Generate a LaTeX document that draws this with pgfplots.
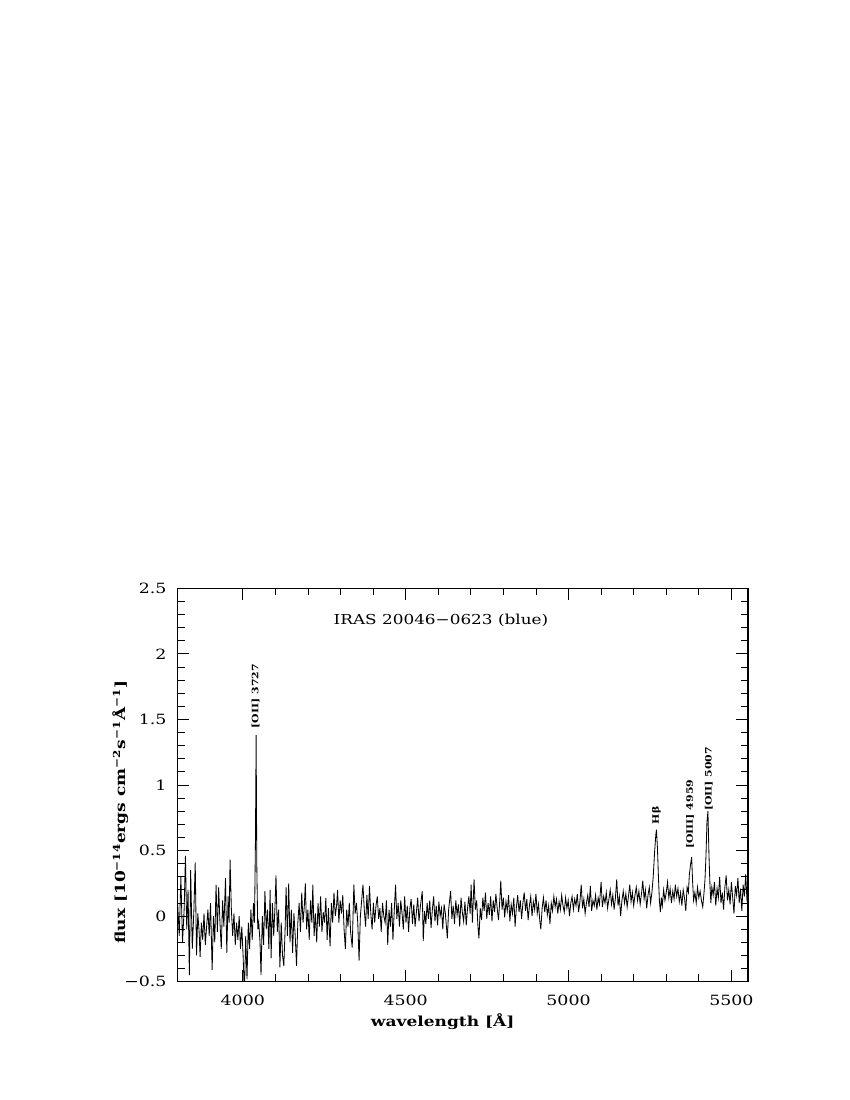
\documentclass[border=0pt]{standalone}
\usepackage{fontspec}
\setmainfont[FakeStretch=1.23]{DejaVu Serif}
\usepackage{pgfplots}
\pgfplotsset{compat=1.18}

\begin{document}
\begin{tikzpicture}
\path (0,0) rectangle (8.5in,11in);
\begin{axis}[
  at={(1.773in,1.183in)}, anchor=south west,
  scale only axis, width=5.707in, height=3.934in,
  xmin=3799, xmax=5551, ymin=-0.5, ymax=2.5,
  xtick={4000,4500,5000,5500}, xticklabels={4000,4500,5000,5500},
  minor x tick num=4,
  ytick={-0.5,0,0.5,1,1.5,2,2.5},
  yticklabels={−0.5,0,0.5,1,1.5,2,2.5},
  minor y tick num=4,
  tick align=inside,
  major tick length=0.12in, minor tick length=0.072in,
  every tick/.style={black, line width=0.6pt},
  axis line style={line width=0.9pt},
  /pgf/number format/assume math mode=true,
  tick label style={font=\fontsize{10.2}{12}\selectfont},
  xticklabel style={yshift=-6.3pt},
  yticklabel style={xshift=-4.3pt},
  clip mode=individual,
]
\addplot[black, line width=0.6pt] coordinates {
(3800,0.10)(3805,-0.15)(3810,0.30)(3815,-0.20)(3820,0.05)(3824,0.46)(3828,-0.10)(3832,0.20)
(3836,-0.45)(3840,0.35)(3845,-0.25)(3850,0.05)(3854,0.41)(3858,-0.30)(3862,0.02)(3866,-0.12)
(3869,-0.31)(3873,-0.05)(3877,-0.18)(3881,0.02)(3885,-0.22)(3889,-0.08)(3893,0.05)(3897,-0.15)
(3901,0.10)(3906,-0.41)(3910,0.00)(3914,-0.20)(3918,0.24)(3922,-0.12)(3926,0.22)(3930,-0.05)
(3934,-0.25)(3938,0.12)(3942,-0.08)(3947,0.29)(3951,-0.28)(3955,0.15)(3958,-0.05)(3961,0.43)
(3965,0.05)(3969,-0.15)(3973,0.02)(3977,-0.22)(3981,-0.05)(3985,-0.18)(3989,0.00)(3993,-0.25)
(3997,-0.08)(4001,-0.30)(4005,-0.60)(4009,-0.15)(4013,-0.48)(4017,-0.05)(4021,-0.25)(4025,0.05)
(4029,-0.18)(4033,0.10)(4036,-0.05)(4039,0.60)(4041,1.38)(4043,0.40)(4046,-0.10)(4049,-0.05)
(4053,-0.20)(4056,-0.45)(4060,0.00)(4064,-0.22)(4068,0.19)(4072,-0.10)(4076,0.05)(4080,-0.25)
(4084,0.20)(4087,-0.32)(4091,0.10)(4095,-0.15)(4099,0.08)(4102,0.31)(4106,-0.12)(4110,0.05)
(4114,-0.39)(4118,-0.05)(4122,-0.30)(4126,-0.38)(4130,-0.10)(4133,0.22)(4137,-0.15)(4141,0.25)
(4145,-0.20)(4149,0.05)(4153,-0.28)(4157,0.02)(4161,-0.15)(4165,-0.38)(4169,-0.05)(4173,0.10)
(4177,-0.12)(4181,0.18)(4185,-0.05)(4189,0.08)(4192,0.25)(4196,-0.10)(4200,0.05)(4204,-0.18)
(4208,0.12)(4212,-0.05)(4215,0.24)(4219,-0.15)(4223,0.02)(4227,-0.20)(4231,0.10)(4235,-0.08)
(4239,0.15)(4243,-0.12)(4247,0.03)(4251,-0.05)(4255,0.14)(4259,-0.18)(4263,0.06)(4268,-0.23)
(4272,0.10)(4276,-0.05)(4280,0.18)(4284,0.00)(4288,0.08)(4291,0.20)(4295,-0.05)(4299,0.12)
(4303,0.02)(4307,0.16)(4311,-0.10)(4315,-0.25)(4319,0.05)(4323,-0.08)(4327,0.10)(4331,-0.12)
(4336,-0.24)(4341,0.24)(4345,0.02)(4349,0.10)(4353,-0.05)(4357,-0.34)(4361,0.00)(4365,0.12)
(4369,0.24)(4373,0.05)(4377,-0.08)(4381,0.16)(4385,-0.02)(4389,0.23)(4393,0.02)(4397,-0.10)
(4401,0.10)(4405,-0.05)(4409,0.08)(4413,0.15)(4417,-0.02)(4421,0.06)(4425,-0.12)(4429,0.10)
(4433,0.00)(4437,-0.05)(4441,0.12)(4445,-0.22)(4449,0.05)(4453,-0.08)(4457,0.10)(4461,-0.18)
(4465,0.04)(4469,0.24)(4473,-0.02)(4477,0.10)(4481,-0.08)(4485,0.12)(4489,0.02)(4493,-0.10)
(4497,0.15)(4501,-0.05)(4505,0.08)(4509,-0.12)(4513,0.06)(4517,0.13)(4521,-0.06)(4525,0.09)
(4529,-0.08)(4533,0.03)(4537,0.14)(4541,-0.04)(4545,0.07)(4551,0.19)(4554,-0.19)(4558,0.04)
(4562,-0.06)(4566,0.10)(4570,-0.02)(4574,0.12)(4578,-0.09)(4582,0.05)(4586,0.15)(4590,-0.04)
(4594,0.08)(4598,-0.07)(4602,0.11)(4606,0.00)(4610,0.06)(4614,-0.10)(4618,0.09)(4622,0.02)
(4628,-0.17)(4632,0.05)(4638,0.19)(4642,-0.02)(4646,0.08)(4650,-0.06)(4654,0.12)(4658,0.01)
(4662,0.09)(4666,-0.08)(4670,0.14)(4674,0.03)(4678,-0.04)(4682,0.11)(4686,-0.07)(4690,0.06)
(4694,0.15)(4698,0.02)(4701,0.24)(4705,-0.05)(4710,0.28)(4714,0.05)(4718,0.12)(4722,-0.08)
(4725,-0.17)(4729,0.06)(4733,-0.03)(4737,0.14)(4741,0.04)(4745,0.18)(4749,-0.02)(4753,0.10)
(4757,0.01)(4761,0.15)(4765,-0.04)(4769,0.12)(4773,0.03)(4777,0.17)(4781,0.06)(4785,-0.03)
(4789,0.12)(4792,0.27)(4796,0.05)(4800,0.14)(4804,-0.01)(4808,0.11)(4812,0.04)(4816,0.16)
(4820,-0.04)(4824,0.09)(4828,0.02)(4832,0.14)(4836,-0.08)(4840,0.07)(4844,0.16)(4848,0.03)
(4852,0.12)(4856,-0.02)(4860,0.10)(4864,0.18)(4868,0.04)(4872,0.13)(4876,-0.03)(4880,0.08)
(4884,0.15)(4888,0.00)(4892,0.11)(4896,0.05)(4900,0.17)(4904,0.02)(4908,0.09)(4912,-0.04)
(4915,-0.10)(4919,0.06)(4923,0.14)(4927,0.03)(4931,0.12)(4935,0.01)(4939,0.08)(4943,-0.06)
(4947,0.10)(4951,0.04)(4955,0.15)(4959,0.07)(4963,0.13)(4967,0.02)(4971,0.11)(4975,0.05)
(4979,0.16)(4983,0.08)(4987,0.03)(4991,0.14)(4995,0.06)(4999,0.12)(5003,0.00)(5007,0.10)
(5011,0.15)(5015,0.05)(5019,0.13)(5023,0.08)(5027,0.17)(5031,0.03)(5035,0.11)(5039,0.24)
(5043,0.06)(5047,0.13)(5051,0.02)(5055,0.10)(5059,0.16)(5063,0.07)(5067,0.23)(5071,0.04)
(5075,0.12)(5079,0.08)(5083,0.16)(5087,0.05)(5091,0.14)(5095,0.09)(5100,0.26)(5104,0.07)
(5108,0.15)(5112,0.10)(5116,0.18)(5120,0.06)(5124,0.13)(5128,0.20)(5132,0.09)(5136,0.16)
(5140,0.05)(5144,0.14)(5148,0.28)(5152,0.08)(5156,0.15)(5160,0.00)(5164,0.12)(5168,0.19)
(5172,0.10)(5176,0.17)(5180,0.07)(5184,0.15)(5188,0.24)(5192,0.11)(5196,0.18)(5200,0.08)
(5204,0.16)(5208,0.22)(5212,0.12)(5216,0.19)(5220,0.09)(5224,0.17)(5228,0.27)(5232,0.13)
(5236,0.20)(5240,0.06)(5244,0.16)(5248,0.22)(5252,0.10)(5256,0.18)(5260,0.30)(5264,0.48)
(5268,0.62)(5270,0.66)(5273,0.52)(5276,0.30)(5279,0.12)(5282,0.03)(5285,0.14)(5288,0.08)
(5292,0.20)(5296,0.12)(5300,0.18)(5304,0.26)(5308,0.14)(5312,0.21)(5316,0.10)(5320,0.19)
(5324,0.13)(5328,0.24)(5332,0.15)(5336,0.21)(5340,0.11)(5344,0.18)(5348,0.08)(5352,0.20)
(5356,0.14)(5360,0.04)(5364,0.22)(5368,0.18)(5371,0.32)(5375,0.40)(5378,0.45)(5381,0.26)
(5384,0.12)(5388,0.18)(5392,0.10)(5396,0.22)(5400,0.14)(5404,0.19)(5408,0.12)(5412,0.07)
(5416,0.18)(5419,0.28)(5422,0.46)(5425,0.72)(5428,0.80)(5431,0.48)(5434,0.25)(5437,0.10)
(5440,0.22)(5444,0.16)(5448,0.26)(5452,0.08)(5456,0.21)(5460,0.14)(5464,0.30)(5468,0.10)
(5472,0.18)(5476,0.05)(5480,0.22)(5484,0.31)(5488,0.12)(5492,0.20)(5496,0.09)(5500,0.26)
(5504,0.14)(5508,0.02)(5512,0.23)(5516,0.16)(5520,0.29)(5524,0.10)(5528,0.21)(5532,0.04)
(5536,0.24)(5540,0.15)(5544,0.32)(5548,0.11)(5552,0.22)
};
% labels
\node[anchor=base, font=\fontsize{9.9}{12}\selectfont] at (rel axis cs:0.462,0.907) {IRAS 20046−0623 (blue)};
\node[anchor=base, font=\fontsize{10}{12}\selectfont\bfseries] at (rel axis cs:0.465,-0.115) {wavelength [Å]};
\node[anchor=base, rotate=90, font=\fontsize{10}{12}\selectfont\bfseries] at (rel axis cs:-0.0916,0.431)
  {flux [10\textsuperscript{−14}ergs cm\textsuperscript{−2}s\textsuperscript{−1}Å\textsuperscript{−1}]};
\begin{scope}[every node/.style={rotate=90, anchor=west, inner sep=0pt, font=\fontsize{6.4}{7}\selectfont\bfseries}]
\node at (axis cs:4039,1.43) {[OII] 3727};
\node at (axis cs:5270,0.70) {Hβ};
\node at (axis cs:5373,0.51) {[OIII] 4959};
\node at (axis cs:5431,0.80) {[OII] 5007};
\end{scope}
\end{axis}
\end{tikzpicture}
\end{document}
